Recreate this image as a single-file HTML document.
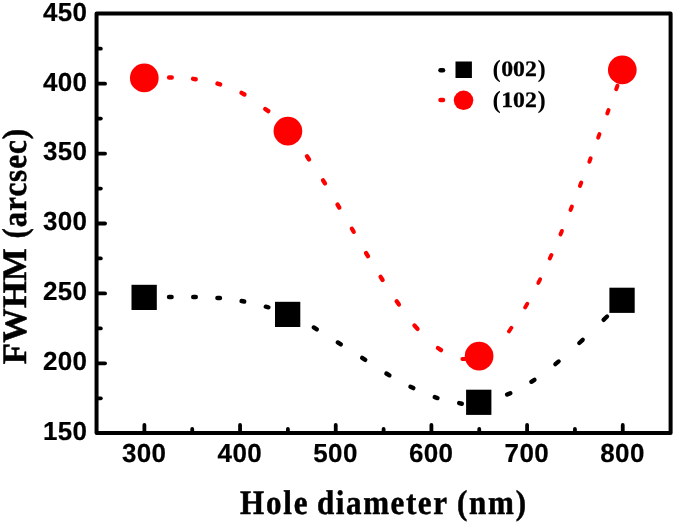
<!DOCTYPE html>
<html><head><meta charset="utf-8"><title>FWHM vs hole diameter</title>
<style>
html,body{margin:0;padding:0;background:#fff;}
body{width:675px;height:524px;overflow:hidden;}
svg{display:block;will-change:transform;}
text{text-rendering:geometricPrecision;}
.tl{font-family:"Liberation Sans",sans-serif;font-weight:bold;font-size:26px;letter-spacing:0.35px;fill:#000;stroke:#000;stroke-width:0.2px;}
.ttl{font-family:"Liberation Serif",serif;font-weight:bold;font-size:33px;fill:#000;stroke:#000;stroke-width:0.5px;}
.lp{font-family:"Liberation Serif",serif;font-weight:bold;font-size:24.8px;fill:#000;}
.ld{font-family:"Liberation Serif",serif;font-weight:bold;font-size:22px;fill:#000;stroke:#000;stroke-width:0.3px;}
</style></head><body>
<svg width="675" height="524" viewBox="0 0 675 524">
<rect width="675" height="524" fill="#fff"/>
<rect x="96.55" y="13.5" width="574.0500000000001" height="419.5" fill="none" stroke="#000" stroke-width="4.0" stroke-linejoin="round"/>
<g stroke="#000" stroke-width="3.8" stroke-linecap="round"><line x1="144.39" y1="432.0" x2="144.39" y2="424.9"/><line x1="240.06" y1="432.0" x2="240.06" y2="424.9"/><line x1="335.74" y1="432.0" x2="335.74" y2="424.9"/><line x1="431.41" y1="432.0" x2="431.41" y2="424.9"/><line x1="527.09" y1="432.0" x2="527.09" y2="424.9"/><line x1="622.76" y1="432.0" x2="622.76" y2="424.9"/><line x1="192.23" y1="432.0" x2="192.23" y2="428.9"/><line x1="287.90" y1="432.0" x2="287.90" y2="428.9"/><line x1="383.58" y1="432.0" x2="383.58" y2="428.9"/><line x1="479.25" y1="432.0" x2="479.25" y2="428.9"/><line x1="574.93" y1="432.0" x2="574.93" y2="428.9"/><line x1="97.55" y1="363.33" x2="105.05" y2="363.33"/><line x1="97.55" y1="293.42" x2="105.05" y2="293.42"/><line x1="97.55" y1="223.50" x2="105.05" y2="223.50"/><line x1="97.55" y1="153.58" x2="105.05" y2="153.58"/><line x1="97.55" y1="83.67" x2="105.05" y2="83.67"/><line x1="97.55" y1="398.29" x2="100.85" y2="398.29"/><line x1="97.55" y1="328.38" x2="100.85" y2="328.38"/><line x1="97.55" y1="258.46" x2="100.85" y2="258.46"/><line x1="97.55" y1="188.54" x2="100.85" y2="188.54"/><line x1="97.55" y1="118.62" x2="100.85" y2="118.62"/><line x1="97.55" y1="48.71" x2="100.85" y2="48.71"/></g>
<g stroke="#000" stroke-linecap="round"><line x1="169.05" y1="297.00" x2="171.55" y2="297.00" stroke-width="4.50"/><line x1="193.25" y1="296.97" x2="195.75" y2="297.03" stroke-width="4.50"/><line x1="217.44" y1="297.89" x2="219.96" y2="298.11" stroke-width="4.50"/><line x1="241.62" y1="301.06" x2="244.18" y2="301.54" stroke-width="4.49"/><line x1="265.80" y1="306.69" x2="268.40" y2="307.31" stroke-width="4.48"/><line x1="313.76" y1="327.44" x2="316.84" y2="329.36" stroke-width="4.36"/><line x1="337.76" y1="342.43" x2="340.84" y2="344.37" stroke-width="4.35"/><line x1="362.15" y1="357.91" x2="365.25" y2="359.89" stroke-width="4.35"/><line x1="386.38" y1="373.50" x2="389.42" y2="375.30" stroke-width="4.37"/><line x1="410.46" y1="386.71" x2="413.34" y2="388.09" stroke-width="4.41"/><line x1="434.75" y1="397.16" x2="437.45" y2="398.04" stroke-width="4.46"/><line x1="459.20" y1="403.09" x2="461.80" y2="403.71" stroke-width="4.48"/><line x1="507.16" y1="394.58" x2="510.24" y2="393.22" stroke-width="4.39"/><line x1="531.35" y1="381.80" x2="534.45" y2="379.80" stroke-width="4.35"/><line x1="555.34" y1="364.16" x2="558.66" y2="361.44" stroke-width="4.30"/><line x1="579.29" y1="342.98" x2="582.71" y2="339.82" stroke-width="4.30"/><line x1="603.57" y1="319.85" x2="607.03" y2="316.55" stroke-width="4.30"/></g>
<g stroke="#f00" stroke-linecap="round"><line x1="169.14" y1="77.55" x2="171.66" y2="77.55" stroke-width="4.50"/><line x1="193.13" y1="78.88" x2="195.67" y2="79.22" stroke-width="4.49"/><line x1="217.47" y1="83.65" x2="220.13" y2="84.45" stroke-width="4.46"/><line x1="241.52" y1="92.85" x2="244.48" y2="94.45" stroke-width="4.39"/><line x1="265.22" y1="108.96" x2="268.38" y2="111.14" stroke-width="4.33"/><line x1="306.95" y1="156.28" x2="309.05" y2="159.42" stroke-width="4.34"/><line x1="323.03" y1="180.31" x2="324.97" y2="183.39" stroke-width="4.35"/><line x1="337.50" y1="204.53" x2="339.30" y2="207.57" stroke-width="4.37"/><line x1="351.91" y1="228.74" x2="353.69" y2="231.76" stroke-width="4.37"/><line x1="366.09" y1="253.13" x2="367.91" y2="256.17" stroke-width="4.37"/><line x1="380.61" y1="276.90" x2="382.59" y2="280.00" stroke-width="4.35"/><line x1="396.67" y1="301.25" x2="398.93" y2="304.45" stroke-width="4.32"/><line x1="414.46" y1="325.45" x2="417.54" y2="328.85" stroke-width="4.30"/><line x1="437.93" y1="348.00" x2="441.07" y2="350.10" stroke-width="4.34"/><line x1="462.40" y1="359.05" x2="464.80" y2="359.05" stroke-width="4.00"/><line x1="509.01" y1="331.34" x2="511.39" y2="327.76" stroke-width="3.90"/><line x1="525.09" y1="307.39" x2="527.31" y2="303.71" stroke-width="3.90"/><line x1="538.28" y1="282.98" x2="540.12" y2="279.32" stroke-width="3.90"/><line x1="549.84" y1="258.33" x2="551.36" y2="254.97" stroke-width="4.00"/><line x1="560.48" y1="234.35" x2="561.92" y2="230.95" stroke-width="4.00"/><line x1="570.51" y1="209.97" x2="571.89" y2="206.53" stroke-width="4.00"/><line x1="579.93" y1="185.97" x2="581.27" y2="182.53" stroke-width="4.00"/><line x1="589.35" y1="161.78" x2="590.65" y2="158.32" stroke-width="4.00"/><line x1="598.16" y1="137.58" x2="599.44" y2="134.12" stroke-width="4.00"/><line x1="607.26" y1="113.48" x2="608.54" y2="110.02" stroke-width="4.00"/><line x1="616.16" y1="89.19" x2="617.44" y2="85.71" stroke-width="4.00"/></g>
<rect x="131.50" y="284.80" width="25.3" height="25.2" fill="#000"/>
<rect x="275.00" y="301.80" width="25.3" height="25.2" fill="#000"/>
<rect x="466.10" y="389.70" width="25.3" height="25.2" fill="#000"/>
<rect x="609.40" y="287.70" width="25.3" height="25.2" fill="#000"/>
<circle cx="144.3" cy="77.9" r="14.35" fill="#f00"/>
<circle cx="287.9" cy="131.1" r="14.35" fill="#f00"/>
<circle cx="479.1" cy="356.1" r="14.35" fill="#f00"/>
<circle cx="622.3" cy="69.8" r="14.35" fill="#f00"/>
<line x1="440.5" y1="70.3" x2="443.0" y2="70.3" stroke="#000" stroke-width="4.5" stroke-linecap="round"/>
<rect x="455.5" y="61.5" width="16.4" height="16.5" fill="#000"/>
<line x1="440.5" y1="100.05" x2="443.0" y2="100.05" stroke="#f00" stroke-width="4.5" stroke-linecap="round"/>
<circle cx="463.55" cy="100.3" r="9.75" fill="#f00"/>
<text x="144.14" y="462.2" text-anchor="middle" class="tl">300</text>
<text x="239.81" y="462.2" text-anchor="middle" class="tl">400</text>
<text x="335.49" y="462.2" text-anchor="middle" class="tl">500</text>
<text x="431.16" y="462.2" text-anchor="middle" class="tl">600</text>
<text x="526.84" y="462.2" text-anchor="middle" class="tl">700</text>
<text x="622.51" y="462.2" text-anchor="middle" class="tl">800</text>
<text x="87.4" y="440.10" text-anchor="end" class="tl">150</text>
<text x="87.4" y="370.18" text-anchor="end" class="tl">200</text>
<text x="87.4" y="300.27" text-anchor="end" class="tl">250</text>
<text x="87.4" y="230.35" text-anchor="end" class="tl">300</text>
<text x="87.4" y="160.43" text-anchor="end" class="tl">350</text>
<text x="87.4" y="90.52" text-anchor="end" class="tl">400</text>
<text x="87.4" y="20.60" text-anchor="end" class="tl">450</text>
<text transform="translate(240.0,513.8) scale(0.94,1.04)" class="ttl" textLength="71.91" lengthAdjust="spacing">Hole</text>
<text transform="translate(317.0,513.8) scale(0.94,1.04)" class="ttl" textLength="138.30" lengthAdjust="spacing">diameter</text>
<text transform="translate(457.0,513.8) scale(0.94,1.04)" class="ttl" textLength="73.40" lengthAdjust="spacing">(nm)</text>
<text transform="translate(26.3,364.2) rotate(-90) scale(1.05,1.04)" class="ttl" textLength="110.48" lengthAdjust="spacing">FWHM</text>
<text transform="translate(26.3,238.6) rotate(-90) scale(0.94,1.04)" class="ttl" textLength="116.60" lengthAdjust="spacing">(arcsec)</text>
<text x="492.4" y="77.39999999999999" class="lp">(</text>
<text x="501.2" y="76.1" class="ld" textLength="35.6" lengthAdjust="spacingAndGlyphs">002</text>
<text x="537.5" y="77.39999999999999" class="lp">)</text>
<text x="492.4" y="108.0" class="lp">(</text>
<text x="501.2" y="106.7" class="ld" textLength="35.6" lengthAdjust="spacingAndGlyphs">102</text>
<text x="537.5" y="108.0" class="lp">)</text>
</svg>
</body></html>
